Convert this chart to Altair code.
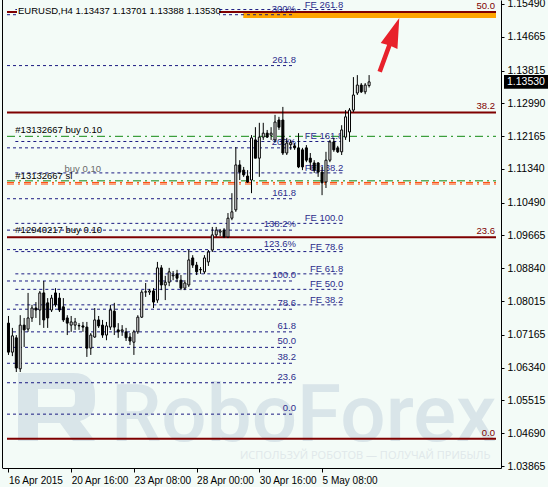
import altair as alt
import pandas as pd

# EURUSD H4 candles, bar 0 = 16 Apr 2015 00:00
opens = [1.0746, 1.0673, 1.0709, 1.0631, 1.0741, 1.0731, 1.0759, 1.0784, 1.0779, 1.0822,
         1.0797, 1.0779, 1.0822, 1.0809, 1.0787, 1.0759, 1.0741, 1.0741, 1.0739, 1.0739,
         1.0736, 1.0683, 1.0711, 1.0754, 1.0741, 1.0716, 1.0736, 1.0776, 1.0729, 1.0726,
         1.0724, 1.0711, 1.0698, 1.0724, 1.0761, 1.0824, 1.0824, 1.0827, 1.0804, 1.0885,
         1.0842, 1.0849, 1.0865, 1.0870, 1.0854, 1.0834, 1.0842, 1.0910, 1.0892, 1.0880,
         1.0875, 1.0900, 1.0930, 1.0968, 1.0975, 1.0980, 1.0963, 1.1010, 1.1031, 1.1144,
         1.1131, 1.1116, 1.1106, 1.1207, 1.1161, 1.1214, 1.1224, 1.1219, 1.1207, 1.1257,
         1.1257, 1.1174, 1.1195, 1.1192, 1.1187, 1.1182, 1.1187, 1.1161, 1.1149, 1.1149,
         1.1126, 1.1101, 1.1156, 1.1202, 1.1187, 1.1177, 1.1214, 1.1227, 1.1282, 1.1325,
         1.1345, 1.1328, 1.13437]
highs = [1.0764, 1.0734, 1.0716, 1.0766, 1.0759, 1.0822, 1.0792, 1.0799, 1.0827, 1.0852,
         1.0809, 1.0817, 1.0834, 1.0822, 1.0809, 1.0766, 1.0764, 1.0759, 1.0746, 1.0749,
         1.0749, 1.0721, 1.0784, 1.0764, 1.0754, 1.0749, 1.0792, 1.0797, 1.0746, 1.0741,
         1.0734, 1.0721, 1.0729, 1.0766, 1.0829, 1.0847, 1.0832, 1.0834, 1.0900, 1.0892,
         1.0865, 1.0885, 1.0877, 1.0880, 1.0867, 1.0854, 1.0930, 1.0917, 1.0900, 1.0887,
         1.0917, 1.0930, 1.0988, 1.0988, 1.0983, 1.0985, 1.1023, 1.1073, 1.1189, 1.1156,
         1.1139, 1.1131, 1.1219, 1.1239, 1.1250, 1.1250, 1.1232, 1.1239, 1.1270, 1.1265,
         1.1290, 1.1212, 1.1207, 1.1199, 1.1224, 1.1187, 1.1194, 1.1174, 1.1156, 1.1151,
         1.1139, 1.1177, 1.1207, 1.1212, 1.1192, 1.1244, 1.1282, 1.1287, 1.1365, 1.1370,
         1.1350, 1.1350, 1.13701]
lows = [1.0666, 1.0663, 1.0623, 1.0623, 1.0686, 1.0724, 1.0749, 1.0759, 1.0741, 1.0734,
        1.0734, 1.0774, 1.0787, 1.0774, 1.0749, 1.0716, 1.0724, 1.0729, 1.0729, 1.0724,
        1.0661, 1.0666, 1.0709, 1.0734, 1.0709, 1.0703, 1.0729, 1.0716, 1.0709, 1.0714,
        1.0701, 1.0691, 1.0666, 1.0719, 1.0759, 1.0812, 1.0817, 1.0784, 1.0797, 1.0829,
        1.0804, 1.0839, 1.0854, 1.0849, 1.0829, 1.0829, 1.0837, 1.0885, 1.0867, 1.0870,
        1.0870, 1.0890, 1.0925, 1.0963, 1.0965, 1.0960, 1.0960, 1.1005, 1.1026, 1.1106,
        1.1114, 1.1099, 1.1073, 1.1161, 1.1114, 1.1207, 1.1212, 1.1207, 1.1202, 1.1232,
        1.1169, 1.1169, 1.1182, 1.1182, 1.1136, 1.1131, 1.1151, 1.1131, 1.1124, 1.1114,
        1.1068, 1.1086, 1.1151, 1.1177, 1.1174, 1.1169, 1.1207, 1.1202, 1.1277, 1.1320,
        1.1325, 1.1322, 1.13388]
closes = [1.0673, 1.0714, 1.0633, 1.0741, 1.0729, 1.0759, 1.0784, 1.0779, 1.0822, 1.0754,
          1.0759, 1.0809, 1.0792, 1.0779, 1.0754, 1.0746, 1.0749, 1.0749, 1.0740, 1.0736,
          1.0683, 1.0716, 1.0754, 1.0739, 1.0716, 1.0739, 1.0779, 1.0736, 1.0724, 1.0729,
          1.0709, 1.0701, 1.0724, 1.0761, 1.0824, 1.0825, 1.0827, 1.0799, 1.0885, 1.0842,
          1.0849, 1.0875, 1.0867, 1.0859, 1.0834, 1.0847, 1.0905, 1.0892, 1.0875, 1.0881,
          1.0910, 1.0925, 1.0968, 1.0980, 1.0978, 1.0963, 1.1010, 1.1026, 1.1144, 1.1126,
          1.1119, 1.1101, 1.1212, 1.1161, 1.1214, 1.1224, 1.1214, 1.1224, 1.1252, 1.1239,
          1.1174, 1.1199, 1.1200, 1.1187, 1.1139, 1.1139, 1.1156, 1.1151, 1.1131, 1.1126,
          1.1099, 1.1156, 1.1202, 1.1182, 1.1177, 1.1232, 1.1265, 1.1282, 1.1320, 1.1345,
          1.1328, 1.1345, 1.13530]

# time axis
tick_bars = [0, 16, 32, 48, 64, 80]
tick_labels = ["16 Apr 2015", "20 Apr 16:00", "23 Apr 08:00", "28 Apr 00:00",
               "30 Apr 16:00", "5 May 08:00"]

# price axis
price_ticks = [1.15490, 1.14665, 1.13815, 1.12990, 1.12165, 1.11340, 1.10490, 1.09665,
               1.08840, 1.08015, 1.07165, 1.06340, 1.05515, 1.04690, 1.03865]

# Fibonacci retracement
retr_labels = ["0.0", "23.6", "38.2", "50.0"]
retr_prices = [1.0455, 1.0962, 1.1276, 1.1529]

# Fibonacci expansion
exp_labels = ["0.0", "23.6", "38.2", "50.0", "61.8", "78.6", "100.0", "123.6%",
              "138.2%", "161.8", "200%", "261.8", "300%"]
exp_prices = [1.0517, 1.0596, 1.0645, 1.0685, 1.0724, 1.0781, 1.0852, 1.0931,
              1.0980, 1.1059, 1.1187, 1.1394, 1.1522]

# Fibonacci projection (FE)
fe_labels = ["FE 38.2", "FE 50.0", "FE 61.8", "FE 78.6", "FE 100.0", "FE 138.2",
             "FE 161.8", "FE 261.8"]
fe_prices = [1.0792, 1.0831, 1.0870, 1.0926, 1.0997, 1.1124, 1.1203, 1.1535]

# target zone
zone_low, zone_high = 1.1514, 1.1528
zone_start_bar = 59.9

# orders
buy_prices = [1.1216, 1.1104]
sl_prices = [1.1100, 1.1096]
order_texts = ["#13132667 buy 0.10", "#13132667 sl", "buy 0.10", "#12940217 buy 0.10"]
order_text_prices = [1.1216, 1.1100, 1.1118, 1.0965]
order_text_bars = [1.75, 1.75, 14.3, 1.75]
order_text_colors = ["#000000", "#000000", "#6a6a6a", "#000000"]

# arrow
arrow_bar = [97.2]
arrow_price = [1.1446]

BG = "#F3FBF7"
NAVY = "#1B1B82"
NAVY_TXT = "#2C2C8C"
MAROON = "#7F0000"
WATERMARK = "#D9E5E9"
FONT = "Liberation Sans"

W, H = 499, 468
X_MIN, X_MAX = -0.375, 124.375
xs = alt.Scale(domain=[X_MIN, X_MAX], nice=False, zero=False)
ys = alt.Scale(domain=[1.03815, 1.15590], nice=False, zero=False)

label_expr = "''"
for b, t in reversed(list(zip(tick_bars, tick_labels))):
    label_expr = f"datum.value == {b} ? '{t}' : ({label_expr})"

x_axis = alt.Axis(values=tick_bars, labelExpr=label_expr, labelAlign="left", labelPadding=3,
                  tickSize=4, tickColor="black", domainColor="black", labelColor="black",
                  labelFont=FONT, labelFontSize=10, grid=False, title=None,
                  labelFlush=False, labelOverlap=False, zindex=1)
y_axis = alt.Axis(orient="right", values=price_ticks, format=".5f", tickSize=3,
                  labelPadding=3, tickColor="black", domainColor="black", labelColor="black",
                  labelFont=FONT, labelFontSize=10.5, grid=False, title=None,
                  labelFlush=False, labelOverlap=False, zindex=1)


def X(field):
    return alt.X(field, scale=xs, axis=x_axis)


def Y(field):
    return alt.Y(field, scale=ys, axis=y_axis)


candles = pd.DataFrame({"bar": list(range(len(opens))), "open": opens, "high": highs,
                        "low": lows, "close": closes})

# watermark: block "R" logo, brand name and slogan
logo_path = ("M -1 -0.883 L 0.429 -0.883 Q 1 -0.883 1 -0.312 L 1 -0.156 "
             "Q 1 0.26 0.61 0.364 L 1 0.883 L 0.429 0.883 L 0.091 0.416 "
             "L -0.481 0.416 L -0.481 0.883 L -1 0.883 Z "
             "M -0.481 -0.468 L -0.481 0 L 0.351 0 Q 0.481 0 0.481 -0.156 "
             "L 0.481 -0.312 Q 0.481 -0.468 0.351 -0.468 Z")
wm_logo = alt.Chart(pd.DataFrame({"a": [0]})).mark_point(
    shape=logo_path, size=77 * 77, filled=True, color=WATERMARK, opacity=1,
    strokeWidth=0).encode(x=alt.value(54.5), y=alt.value(407))
wm_name = alt.Chart(pd.DataFrame({"t": ["RoboForex"]})).mark_text(
    font="Roboto", fontSize=80, fontWeight=500, align="left", baseline="alphabetic",
    color=WATERMARK).encode(text="t:N", x=alt.value(109), y=alt.value(441))
wm_sub = alt.Chart(pd.DataFrame({"t": ["ИСПОЛЬЗУЙ РОБОТОВ — ПОЛУЧАЙ ПРИБЫЛЬ"]})).mark_text(
    font="Open Sans", fontSize=11, align="left", baseline="middle",
    color="#E0E8EA").encode(text="t:N", x=alt.value(238), y=alt.value(456))

zone = alt.Chart(pd.DataFrame({"x0": [zone_start_bar], "x1": [X_MAX],
                               "lo": [zone_low], "hi": [zone_high]})).mark_rect(
    color="#FFA500").encode(x=X("x0:Q"), x2="x1:Q", y=Y("lo:Q"), y2="hi:Q")

exp_df = pd.DataFrame({"label": exp_labels, "price": exp_prices,
                       "x0": X_MIN, "x1": 73.1})
fe_df = pd.DataFrame({"label": fe_labels, "price": fe_prices, "x0": 1.75, "x1": 85.4})
retr_df = pd.DataFrame({"label": retr_labels, "price": retr_prices, "x0": X_MIN, "x1": X_MAX})


def level_rules(df, **kw):
    return alt.Chart(df).mark_rule(**kw).encode(x=X("x0:Q"), x2="x1:Q", y=Y("price:Q"))


def level_text(df, **kw):
    return alt.Chart(df).mark_text(align="right", baseline="bottom", font=FONT,
                                   fontSize=9.5, **kw).encode(
        x=X("x1:Q"), y=Y("price:Q"), text="label:N")


exp_rules = level_rules(exp_df, color=NAVY, strokeWidth=1, strokeDash=[3, 3])
fe_rules = level_rules(fe_df, color=NAVY, strokeWidth=1, strokeDash=[3, 3])
retr_rules = level_rules(retr_df, color=MAROON, strokeWidth=2)

buy_df = pd.DataFrame({"price": buy_prices, "x0": X_MIN, "x1": X_MAX})
sl_df = pd.DataFrame({"price": sl_prices, "x0": X_MIN, "x1": X_MAX})
buy_rules = level_rules(buy_df, color="#128A12", strokeWidth=1, strokeDash=[8, 4, 2, 4])
sl_rules = level_rules(sl_df, color="#FF4500", strokeWidth=1, strokeDash=[7, 4, 2, 4])

exp_txt = level_text(exp_df, color=NAVY_TXT, dy=-1, dx=1)
fe_txt = level_text(fe_df, color=NAVY_TXT, dy=0)
retr_txt = level_text(retr_df, color=MAROON, dy=-1, dx=-1)

orders_df = pd.DataFrame({"t": order_texts, "price": order_text_prices,
                          "bar": order_text_bars, "c": order_text_colors})
order_txt = alt.Chart(orders_df).mark_text(align="left", baseline="bottom", font=FONT,
                                           fontSize=9.5, dy=-1).encode(
    x=X("bar:Q"), y=Y("price:Q"), text="t:N", color=alt.Color("c:N", scale=None))

wicks = alt.Chart(candles).mark_rule(color="black", strokeWidth=1).encode(
    x=X("bar:Q"), y=Y("low:Q"), y2="high:Q")
bodies = alt.Chart(candles).mark_bar(size=2, stroke="black", strokeWidth=1).encode(
    x=X("bar:Q"), y=Y("open:Q"), y2="close:Q",
    fill=alt.condition("datum.close >= datum.open", alt.value("white"), alt.value("black")))

arrow_path = ("M -0.08 1 L 0.08 1 L 0.08 0.02 L 0.31 0.04 L 0 -1 "
              "L -0.31 0.04 L -0.08 0.02 Z")
arrow = alt.Chart(pd.DataFrame({"bar": arrow_bar, "price": arrow_price})).mark_point(
    shape=arrow_path, size=3283, angle=20, filled=True, color="#E8212B", opacity=1,
    strokeWidth=0).encode(x=X("bar:Q"), y=Y("price:Q"))

title_str = (f"EURUSD,H4  {opens[-1]:.5f} {highs[-1]:.5f} "
             f"{lows[-1]:.5f} {closes[-1]:.5f}")
title_bg = alt.Chart(pd.DataFrame({"a": [0]})).mark_rect(color=BG).encode(
    x=alt.value(15), x2=alt.value(217), y=alt.value(2), y2=alt.value(19))
title_txt = alt.Chart(pd.DataFrame({"t": [title_str]})).mark_text(
    align="left", baseline="middle", font=FONT, fontSize=9.5, color="black").encode(
    text="t:N", x=alt.value(16), y=alt.value(11))

last = closes[-1]
tag_half = 0.00176
tag_df = pd.DataFrame({"lo": [last - tag_half], "hi": [last + tag_half],
                       "price": [last], "t": [f"{last:.5f}"]})
tag_rect = alt.Chart(tag_df).mark_rect(color="black").encode(
    x=alt.value(W + 3), x2=alt.value(W + 47), y=Y("lo:Q"), y2="hi:Q")
tag_txt = alt.Chart(tag_df).mark_text(align="left", baseline="middle", font=FONT,
                                      fontSize=10.5, color="white").encode(
    x=alt.value(W + 6), y=Y("price:Q"), text="t:N")

left_border = alt.Chart(pd.DataFrame({"a": [0]})).mark_rule(color="black").encode(
    x=alt.value(0.5), y=alt.value(0), y2=alt.value(H))

chart = alt.layer(
    wm_logo, wm_name, wm_sub,
    zone, exp_rules, fe_rules, retr_rules, buy_rules, sl_rules,
    exp_txt, fe_txt, retr_txt, order_txt,
    wicks, bodies,
    arrow, title_bg, title_txt, tag_rect, tag_txt, left_border,
).properties(
    width=W, height=H, background=BG,
    padding={"left": 2, "top": 0, "right": 47, "bottom": 19},
    autosize=alt.AutoSizeParams(type="none"),
).configure_view(stroke=None)

chart.save("out.html", embed_options={"renderer": "svg", "actions": False})
